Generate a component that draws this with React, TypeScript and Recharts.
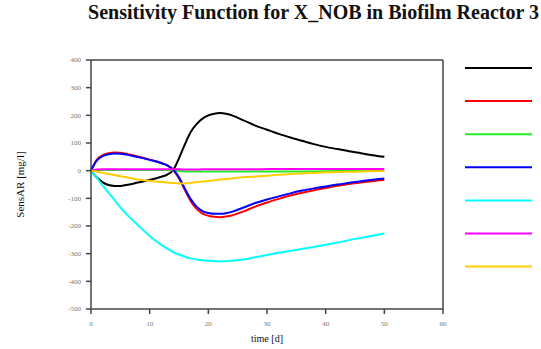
import { LineChart, Line, XAxis, YAxis, ReferenceLine, Legend } from "recharts";

const timeDays = [0, 1, 2, 3, 4, 5, 6, 8, 10, 12, 13, 14, 15, 16, 17, 18, 19, 20, 21, 22, 23, 24, 26, 28, 30, 32, 34, 36, 38, 40, 42, 44, 46, 48, 50];

const sensBlack = [0, -25, -42, -52, -55, -55, -52, -43, -34, -22, -14, 2, 45, 95, 140, 168, 188, 200, 206, 208, 206, 200, 182, 163, 148, 133, 120, 108, 96, 86, 78, 70, 63, 56, 50];
const sensRed = [0, 40, 56, 63, 66, 65, 61, 51, 40, 28, 19, 2, -28, -70, -110, -138, -155, -163, -167, -168, -166, -162, -147, -130, -115, -102, -90, -80, -71, -63, -55, -48, -43, -38, -34];
const sensGreen = [0, 2, 2, 2, 2, 2, 2, 2, 2, 2, 2, 1, -1, -3, -3, -3, -3, -3, -3, -3, -3, -3, -3, -3, -3, -3, -3, -3, -3, -2, -1, 0, 0, 1, 1];
const sensBlue = [0, 37, 53, 59, 62, 61, 58, 49, 39, 27, 19, 4, -24, -65, -103, -130, -146, -153, -156, -156, -154, -149, -133, -117, -104, -93, -82, -72, -64, -57, -50, -44, -38, -33, -28];
const sensCyan = [0, -26, -54, -80, -106, -133, -156, -197, -236, -268, -282, -294, -303, -311, -317, -321, -324, -326, -327, -328, -327, -326, -321, -313, -305, -297, -290, -283, -276, -268, -260, -251, -243, -235, -227];
const sensMagenta = [0, 4, 5, 5, 5, 5, 5, 5, 5, 5, 5, 5, 5, 4, 4, 4, 5, 5, 5, 5, 5, 5, 5, 5, 6, 6, 6, 6, 6, 6, 6, 6, 6, 6, 6];
const sensYellow = [0, -4, -8, -12, -16, -20, -24, -32, -37, -41, -43, -45, -46, -46, -44, -41, -39, -37, -35, -32, -30, -28, -24, -21, -18, -15, -12, -10, -8, -6, -5, -4, -3, -2, -1];

const xTicks = [0, 10, 20, 30, 40, 50, 60];
const yTicks = [-500, -400, -300, -200, -100, 0, 100, 200, 300, 400];

const series = [
  { key: "black", values: sensBlack, color: "#000000" },
  { key: "red", values: sensRed, color: "#ff0000" },
  { key: "green", values: sensGreen, color: "#22ee22" },
  { key: "blue", values: sensBlue, color: "#0000ff" },
  { key: "cyan", values: sensCyan, color: "#00ffff" },
  { key: "magenta", values: sensMagenta, color: "#ff00ff" },
  { key: "yellow", values: sensYellow, color: "#ffcc00" },
];

const chartData = timeDays.map((t, i) => {
  const row: Record<string, number> = { t };
  series.forEach((s) => {
    row[s.key] = s.values[i];
  });
  return row;
});

const serif = "'Liberation Serif', 'Times New Roman', serif";
const tickStyle = { fill: "#777", fontSize: 7, fontFamily: serif };

function LegendLines() {
  return (
    <svg width={70} height={215}>
      {series.map((s, i) => (
        <line
          key={s.key}
          x1={1}
          x2={68}
          y1={8 + i * 33.1}
          y2={8 + i * 33.1}
          stroke={s.color}
          strokeWidth={2}
        />
      ))}
    </svg>
  );
}

export default function App() {
  return (
    <div style={{ position: "absolute", left: 0, top: 0, width: 541, height: 349, background: "#fff", fontFamily: serif }}>
      <div
        style={{
          position: "absolute",
          left: 0,
          width: 541,
          top: 1,
          textAlign: "center",
          paddingLeft: 86,
          boxSizing: "border-box",
          fontWeight: "bold",
          fontSize: 20,
          color: "#111",
          whiteSpace: "nowrap",
        }}
      >
        Sensitivity Function for X_NOB in Biofilm Reactor 3
      </div>
      <LineChart
        width={541}
        height={349}
        data={chartData}
        margin={{ top: 60, right: 28, left: 51, bottom: 10 }}
        style={{ fontFamily: serif }}
      >
        <XAxis
          dataKey="t"
          type="number"
          domain={[0, 60]}
          ticks={xTicks}
          stroke="#444"
          strokeWidth={1.5}
          tickSize={5}
          tickMargin={7}
          tick={tickStyle}
          height={30}
          label={{ value: "time [d]", position: "insideBottom", offset: -3, fill: "#111", fontSize: 10, fontFamily: serif }}
        />
        <YAxis
          type="number"
          domain={[-500, 400]}
          ticks={yTicks}
          stroke="#444"
          strokeWidth={1.5}
          tickSize={5}
          tickMargin={5}
          tick={tickStyle}
          width={40}
          label={{
            value: "SensAR [mg/l]",
            angle: -90,
            position: "insideLeft",
            offset: -31,
            fill: "#111",
            fontSize: 11,
            fontFamily: serif,
            style: { textAnchor: "middle" },
          }}
        />
        <ReferenceLine y={400} stroke="#444" strokeWidth={1.5} />
        <ReferenceLine x={60} stroke="#444" strokeWidth={1.5} />
        {series.map((s) => (
          <Line
            key={s.key}
            dataKey={s.key}
            type="monotone"
            stroke={s.color}
            strokeWidth={2}
            dot={false}
            isAnimationActive={false}
          />
        ))}
        <Legend
          layout="vertical"
          verticalAlign="top"
          align="right"
          content={() => <LegendLines />}
          wrapperStyle={{ position: "absolute", left: 464, top: 60, width: 70 }}
        />
      </LineChart>
    </div>
  );
}
